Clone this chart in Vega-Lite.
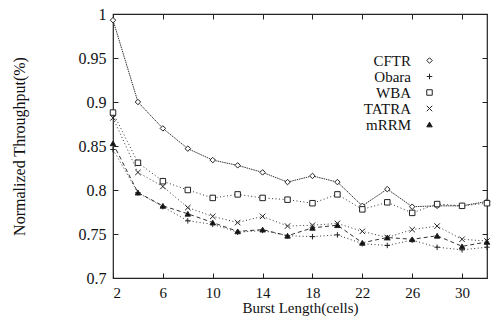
{
  "$schema": "https://vega.github.io/schema/vega-lite/v6.json",
  "width": 374,
  "height": 264,
  "autosize": {"type": "none"},
  "padding": {"left": 113, "top": 14, "right": 4, "bottom": 42},
  "background": "white",
  "config": {
    "font": "Liberation Serif",
    "view": {"stroke": "#222", "strokeWidth": 1.2},
    "axis": {
      "domain": false,
      "grid": false,
      "tickColor": "#222",
      "tickSize": -5,
      "labelFont": "Liberation Serif",
      "labelFontSize": 16,
      "labelColor": "#111",
      "titleFont": "Liberation Serif",
      "titleFontWeight": "normal",
      "titleFontSize": 16,
      "titleColor": "#111"
    }
  },
  "data": {
    "values": [
      {"len": 2, "scheme": "CFTR", "tput": 0.993},
      {"len": 4, "scheme": "CFTR", "tput": 0.900},
      {"len": 6, "scheme": "CFTR", "tput": 0.870},
      {"len": 8, "scheme": "CFTR", "tput": 0.847},
      {"len": 10, "scheme": "CFTR", "tput": 0.834},
      {"len": 12, "scheme": "CFTR", "tput": 0.828},
      {"len": 14, "scheme": "CFTR", "tput": 0.820},
      {"len": 16, "scheme": "CFTR", "tput": 0.809},
      {"len": 18, "scheme": "CFTR", "tput": 0.816},
      {"len": 20, "scheme": "CFTR", "tput": 0.809},
      {"len": 22, "scheme": "CFTR", "tput": 0.782},
      {"len": 24, "scheme": "CFTR", "tput": 0.801},
      {"len": 26, "scheme": "CFTR", "tput": 0.781},
      {"len": 28, "scheme": "CFTR", "tput": 0.782},
      {"len": 30, "scheme": "CFTR", "tput": 0.782},
      {"len": 32, "scheme": "CFTR", "tput": 0.787},

      {"len": 2, "scheme": "Obara", "tput": 0.846},
      {"len": 4, "scheme": "Obara", "tput": 0.797},
      {"len": 6, "scheme": "Obara", "tput": 0.781},
      {"len": 8, "scheme": "Obara", "tput": 0.765},
      {"len": 10, "scheme": "Obara", "tput": 0.761},
      {"len": 12, "scheme": "Obara", "tput": 0.752},
      {"len": 14, "scheme": "Obara", "tput": 0.754},
      {"len": 16, "scheme": "Obara", "tput": 0.748},
      {"len": 18, "scheme": "Obara", "tput": 0.747},
      {"len": 20, "scheme": "Obara", "tput": 0.749},
      {"len": 22, "scheme": "Obara", "tput": 0.739},
      {"len": 24, "scheme": "Obara", "tput": 0.737},
      {"len": 26, "scheme": "Obara", "tput": 0.743},
      {"len": 28, "scheme": "Obara", "tput": 0.735},
      {"len": 30, "scheme": "Obara", "tput": 0.732},
      {"len": 32, "scheme": "Obara", "tput": 0.735},

      {"len": 2, "scheme": "WBA", "tput": 0.888},
      {"len": 4, "scheme": "WBA", "tput": 0.831},
      {"len": 6, "scheme": "WBA", "tput": 0.810},
      {"len": 8, "scheme": "WBA", "tput": 0.800},
      {"len": 10, "scheme": "WBA", "tput": 0.791},
      {"len": 12, "scheme": "WBA", "tput": 0.795},
      {"len": 14, "scheme": "WBA", "tput": 0.791},
      {"len": 16, "scheme": "WBA", "tput": 0.789},
      {"len": 18, "scheme": "WBA", "tput": 0.785},
      {"len": 20, "scheme": "WBA", "tput": 0.795},
      {"len": 22, "scheme": "WBA", "tput": 0.778},
      {"len": 24, "scheme": "WBA", "tput": 0.786},
      {"len": 26, "scheme": "WBA", "tput": 0.774},
      {"len": 28, "scheme": "WBA", "tput": 0.784},
      {"len": 30, "scheme": "WBA", "tput": 0.782},
      {"len": 32, "scheme": "WBA", "tput": 0.785},

      {"len": 2, "scheme": "TATRA", "tput": 0.882},
      {"len": 4, "scheme": "TATRA", "tput": 0.820},
      {"len": 6, "scheme": "TATRA", "tput": 0.804},
      {"len": 8, "scheme": "TATRA", "tput": 0.780},
      {"len": 10, "scheme": "TATRA", "tput": 0.770},
      {"len": 12, "scheme": "TATRA", "tput": 0.763},
      {"len": 14, "scheme": "TATRA", "tput": 0.770},
      {"len": 16, "scheme": "TATRA", "tput": 0.759},
      {"len": 18, "scheme": "TATRA", "tput": 0.760},
      {"len": 20, "scheme": "TATRA", "tput": 0.762},
      {"len": 22, "scheme": "TATRA", "tput": 0.753},
      {"len": 24, "scheme": "TATRA", "tput": 0.746},
      {"len": 26, "scheme": "TATRA", "tput": 0.755},
      {"len": 28, "scheme": "TATRA", "tput": 0.759},
      {"len": 30, "scheme": "TATRA", "tput": 0.744},
      {"len": 32, "scheme": "TATRA", "tput": 0.742},

      {"len": 2, "scheme": "mRRM", "tput": 0.853},
      {"len": 4, "scheme": "mRRM", "tput": 0.797},
      {"len": 6, "scheme": "mRRM", "tput": 0.782},
      {"len": 8, "scheme": "mRRM", "tput": 0.773},
      {"len": 10, "scheme": "mRRM", "tput": 0.763},
      {"len": 12, "scheme": "mRRM", "tput": 0.753},
      {"len": 14, "scheme": "mRRM", "tput": 0.755},
      {"len": 16, "scheme": "mRRM", "tput": 0.748},
      {"len": 18, "scheme": "mRRM", "tput": 0.757},
      {"len": 20, "scheme": "mRRM", "tput": 0.760},
      {"len": 22, "scheme": "mRRM", "tput": 0.740},
      {"len": 24, "scheme": "mRRM", "tput": 0.746},
      {"len": 26, "scheme": "mRRM", "tput": 0.744},
      {"len": 28, "scheme": "mRRM", "tput": 0.748},
      {"len": 30, "scheme": "mRRM", "tput": 0.736},
      {"len": 32, "scheme": "mRRM", "tput": 0.741}
    ]
  },
  "layer": [
    {
      "mark": {"type": "line", "strokeWidth": 1, "color": "#333"},
      "encoding": {
        "x": {
          "field": "len", "type": "quantitative",
          "scale": {"domain": [2, 32], "nice": false, "zero": false},
          "axis": {"values": [2, 6, 10, 14, 18, 22, 26, 30], "title": "Burst Length(cells)", "titleFontSize": 15, "labelFontSize": 15, "labelPadding": 12, "titlePadding": 0}
        },
        "y": {
          "field": "tput", "type": "quantitative",
          "scale": {"domain": [0.7, 1], "nice": false, "zero": false},
          "axis": {"values": [0.7, 0.75, 0.8, 0.85, 0.9, 0.95, 1], "format": ".2~f", "title": "Normalized Throughput(%)", "labelPadding": 12, "titlePadding": 51}
        },
        "detail": {"field": "scheme"},
        "strokeDash": {
          "condition": [
            {"test": "datum.scheme === 'CFTR'", "value": [1.5, 0.8]},
            {"test": "datum.scheme === 'mRRM'", "value": [4, 3]}
          ],
          "value": [1, 2.5]
        }
      }
    },
    {
      "mark": {"type": "point", "strokeWidth": 1, "stroke": "#222", "opacity": 1},
      "encoding": {
        "x": {"field": "len", "type": "quantitative", "axis": {"orient": "top", "labels": false, "title": null, "values": [2, 6, 10, 14, 18, 22, 26, 30]}},
        "y": {"field": "tput", "type": "quantitative", "axis": {"orient": "right", "labels": false, "title": null, "values": [0.7, 0.75, 0.8, 0.85, 0.9, 0.95, 1]}},
        "shape": {
          "field": "scheme", "type": "nominal",
          "scale": {
            "domain": ["CFTR", "Obara", "WBA", "TATRA", "mRRM"],
            "range": ["diamond", "M-1,0L1,0M0,-1L0,1", "square", "M-1,-1L1,1M-1,1L1,-1", "triangle-up"]
          },
          "legend": {
            "title": null,
            "orient": "none",
            "legendX": 309,
            "legendY": 39,
            "labelAlign": "right",
            "labelOffset": -26,
            "labelFontSize": 15,
            "labelFont": "Liberation Serif",
            "labelColor": "#111",
            "rowPadding": -2,
            "symbolSize": 30,
            "symbolStrokeWidth": 1
          }
        },
        "fill": {
          "field": "scheme", "type": "nominal",
          "scale": {"domain": ["CFTR", "Obara", "WBA", "TATRA", "mRRM"], "range": ["white", "white", "white", "white", "#111"]}
        },
        "size": {"value": 30}
      }
    }
  ],
  "resolve": {"axis": {"x": "independent", "y": "independent"}}
}
